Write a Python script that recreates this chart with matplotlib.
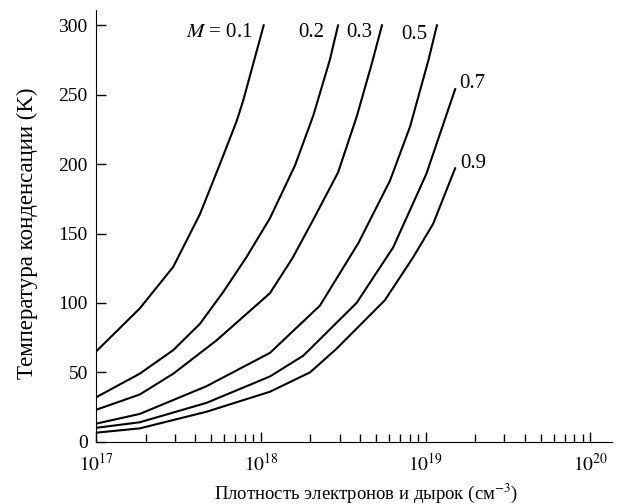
import matplotlib
matplotlib.use("Agg")
import matplotlib.pyplot as plt
from matplotlib.ticker import LogLocator, FixedLocator, NullFormatter

plt.rcParams['font.family'] = ['Liberation Serif', 'DejaVu Serif']
plt.rcParams['mathtext.fontset'] = 'stix'

# плотность (см^-3) и температура конденсации (K) для каждого M
n_01 = [1.0e17, 1.84e17, 2.94e17, 4.27e17, 5.64e17, 7.13e17, 7.82e17, 1.04e18]
T_01 = [65, 96, 126, 164, 200, 231, 246, 300]

n_02 = [1.0e17, 1.84e17, 2.94e17, 4.27e17, 5.92e17, 8.18e17, 1.135e18, 1.61e18, 2.08e18, 2.62e18, 2.94e18]
T_02 = [32, 49, 66, 85, 108, 133, 161, 199, 235, 275, 300]

n_03 = [1.0e17, 1.84e17, 2.94e17, 5.38e17, 1.135e18, 1.55e18, 2.08e18, 2.94e18, 3.81e18, 4.70e18, 5.43e18]
T_03 = [23, 34, 49, 73, 107, 132, 160, 194, 234, 272, 300]

n_05 = [1.0e17, 1.84e17, 4.68e17, 1.135e18, 2.28e18, 3.90e18, 6.07e18, 8.04e18, 1.04e19, 1.17e19]
T_05 = [13, 20, 40, 64, 98, 143, 188, 227, 275, 300]

n_07 = [1.0e17, 1.84e17, 4.68e17, 1.135e18, 1.81e18, 3.81e18, 6.35e18, 1.01e19, 1.51e19]
T_07 = [10, 14, 28, 47, 62, 100, 140, 193, 254]

n_09 = [1.0e17, 1.84e17, 4.68e17, 1.135e18, 1.99e18, 2.88e18, 5.66e18, 8.41e18, 1.11e19, 1.51e19]
T_09 = [6.5, 9.6, 21.6, 36, 50, 67, 102, 133, 157, 197]

labels = ['$M$ = 0.1', '0.2', '0.3', '0.5', '0.7', '0.9']
curves = [(n_01, T_01), (n_02, T_02), (n_03, T_03), (n_05, T_05), (n_07, T_07), (n_09, T_09)]
# смещение подписи от конца кривой (пиксели) и выравнивание
label_pos = [(-11, -7, 'right'), (-14, -7, 'right'), (-10, -7, 'right'),
             (-10, -9, 'right'), (4, 6, 'left'), (5, 5, 'left')]

fig = plt.figure(figsize=(6.2, 5.04), dpi=100)
ax = fig.add_axes([0.155, 0.1236, 0.832, 0.8565])

for (n, T), lab, (dx, dy, ha) in zip(curves, labels, label_pos):
    ax.plot(n, T, color='black', lw=1.5)
    ax.annotate(lab, xy=(n[-1], T[-1]), xytext=(dx, dy), textcoords='offset pixels',
                ha=ha, va='center', fontsize=15)

ax.set_xscale('log')
ax.set_xlim(1e17, 1.35e20)
ax.set_ylim(0, 311)

ax.spines['top'].set_visible(False)
ax.spines['right'].set_visible(False)

ax.xaxis.set_major_locator(FixedLocator([1e17, 1e18, 1e19, 1e20]))
ax.set_xticklabels(['$10^{17}$', '$10^{18}$', '$10^{19}$', '$10^{20}$'])
ax.xaxis.set_minor_locator(LogLocator(base=10, subs=range(2, 10)))
ax.xaxis.set_minor_formatter(NullFormatter())
ax.set_yticks([0, 50, 100, 150, 200, 250, 300])

ax.tick_params(axis='both', which='both', direction='in', width=1, labelsize=14)
ax.tick_params(axis='x', which='major', length=7, pad=8)
ax.tick_params(axis='x', which='minor', length=6)
ax.tick_params(axis='y', which='major', length=7, pad=6)

ax.set_xlabel('Плотность электронов и дырок (см$^{-3}$)', fontsize=13.5)
ax.xaxis.set_label_coords(0.523, -0.092)
ax.set_ylabel('Температура конденсации (K)', fontsize=16.5)
ax.yaxis.set_label_coords(-0.112, 0.482)

fig.savefig('out.png', dpi=100)
